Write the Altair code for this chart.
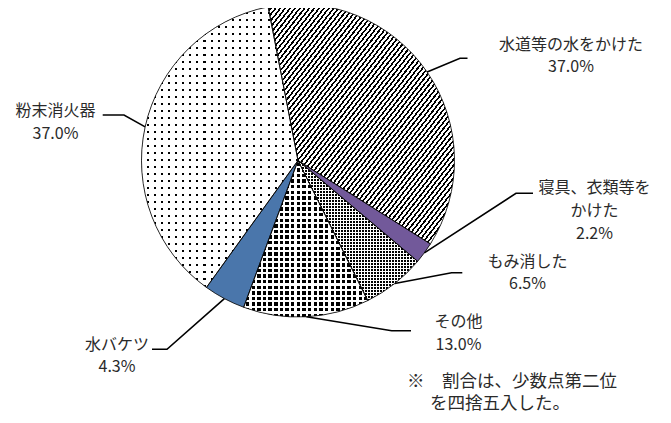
import math
import altair as alt
import pandas as pd

# ---------------- data ----------------
categories = ["水道等の水をかけた", "寝具、衣類等をかけた", "もみ消した", "その他", "水バケツ", "粉末消火器"]
values = [37.0, 2.2, 6.5, 13.0, 4.3, 37.0]
label_names = [["水道等の水をかけた"], ["寝具、衣類等を", "かけた"], ["もみ消した"], ["その他"], ["水バケツ"], ["粉末消火器"]]
note_lines = ["※　割合は、少数点第二位", "を四捨五入した。"]

# ---------------- layout / style ----------------
M = 8                      # page margin
W, H = 655, 407
CX, CY, R = 298.0, 160.5, 156.5   # page coords of pie centre, radius
START_DEG = -11.0
FONT = "Noto Sans CJK JP"
TEXT_COLOR = "#2a2a2a"
base_colors = ["#ffffff", "#72599a", "#000000", "#000000", "#4a76ab", "#000000"]
# label anchors: (x centre, y of first line, line gap)
label_pos = [(571, 45, 22), (594.5, 188.3, 22.8), (527.5, 261.7, 21.8),
             (458.5, 321.7, 23.3), (117, 345, 22.3), (55.5, 111.2, 22.4)]
elbows = [(460, 58.3), (516, 193.3), (451.6, 272.7), (391.7, 330.7), (167, 349.3), (124, 115)]
ends = [(467.5, 58.3), (533, 193.3), (462.3, 272.7), (411, 330.7), (152, 349.3), (102.7, 115)]
note_x = [407, 430]
note_y = [381.5, 403.5]

total = sum(values)


def angles():
    out, acc = [], 0.0
    for v in values:
        a0 = START_DEG + acc / total * 360
        acc += v
        a1 = START_DEG + acc / total * 360
        out.append((a0, a1))
    return out


ANG = angles()


def sector_bbox(a0, a1, r):
    pts = [(0.0, 0.0)]
    angs = [a0, a1] + [k * 90 for k in range(-4, 9) if a0 < k * 90 < a1]
    for a in angs:
        t = math.radians(a)
        pts.append((r * math.sin(t), -r * math.cos(t)))
    xs = [p[0] for p in pts]
    ys = [p[1] for p in pts]
    return max(xs) - min(xs), max(ys) - min(ys)


def stripes(n, duty, on, off, x1, y1, x2, y2):
    stops = []
    for i in range(n):
        a = round(i / n, 6)
        b = round((i + duty) / n, 6)
        c = round((i + 1) / n, 6)
        stops += [alt.GradientStop(offset=a, color=on), alt.GradientStop(offset=b, color=on),
                  alt.GradientStop(offset=b, color=off), alt.GradientStop(offset=c, color=off)]
    return alt.LinearGradient(gradient="linear", stops=stops, x1=x1, y1=y1, x2=x2, y2=y2)


CLEAR = "rgba(255,255,255,0)"

pie_df = pd.DataFrame({"cat": categories, "value": values, "idx": list(range(len(values)))})

theta_scale = alt.Scale(domain=[0, total],
                        range=[math.radians(START_DEG), math.radians(START_DEG) + 2 * math.pi])

base = (alt.Chart(pie_df)
        .transform_window(cum="sum(value)", sort=[alt.SortField("idx")], frame=[None, 0])
        .transform_calculate(start="datum.cum - datum.value"))

pos = dict(theta=alt.Theta("start:Q", scale=theta_scale, stack=False),
           theta2="cum:Q",
           x=alt.value(CX - M), y=alt.value(CY - M))

layers = []
layers.append(base.mark_arc(radius=R, strokeWidth=0).encode(
    fill=alt.Fill("cat:N", scale=alt.Scale(domain=categories, range=base_colors), legend=None), **pos))


def only(i):
    return base.transform_filter(alt.datum.cat == categories[i])


# 水道: diagonal hatch
w0, h0 = sector_bbox(*ANG[0], R)
D = 2 / math.sqrt(1 / w0 ** 2 + 1 / h0 ** 2)
layers.append(only(0).mark_arc(radius=R, strokeWidth=0,
                               fill=stripes(int(round(D / 3.8)), 0.42, "#000000", "#ffffff", 0, 0, 1, 1)
                               ).encode(**pos))


def dots(i, period, dot):
    w, h = sector_bbox(*ANG[i], R)
    duty = (period - dot) / period
    return [
        only(i).mark_arc(radius=R, strokeWidth=0,
                         fill=stripes(max(1, int(round(w / period))), duty, "#ffffff", CLEAR, 0, 0, 1, 0)).encode(**pos),
        only(i).mark_arc(radius=R, strokeWidth=0,
                         fill=stripes(max(1, int(round(h / period))), duty, "#ffffff", CLEAR, 0, 0, 0, 1)).encode(**pos),
    ]


layers += dots(5, 7.0, 2.0)    # 粉末消火器
layers += dots(3, 5.6, 3.4)    # その他
layers += dots(2, 3.0, 2.0)    # もみ消した

layers.append(base.mark_arc(radius=R, fillOpacity=0, stroke="#000000", strokeWidth=0.8).encode(**pos))

# leader lines
lead_rows = []
for i, c in enumerate(categories):
    a0, a1 = ANG[i]
    mid = math.radians((a0 + a1) / 2)
    ex, ey = CX + R * math.sin(mid), CY - R * math.cos(mid)
    pts = [(ex, ey), elbows[i], ends[i]]
    for k, (px, py) in enumerate(pts):
        lead_rows.append({"cat": c, "k": k, "x": px - M, "y": py - M})
lead_df = pd.DataFrame(lead_rows)
layers.append(alt.Chart(lead_df).mark_line(color="#000000", strokeWidth=1.6).encode(
    x=alt.X("x:Q", scale=None, axis=None), y=alt.Y("y:Q", scale=None, axis=None),
    detail="cat:N", order="k:Q"))

# labels
lab_rows = []
for i, c in enumerate(categories):
    lines = label_names[i] + [f"{values[i]:.1f}%"]
    x0, y0, gap = label_pos[i]
    for j, t in enumerate(lines):
        lab_rows.append({"t": t, "x": x0 - M, "y": y0 + j * gap - M, "id": f"{i}-{j}"})
lab_df = pd.DataFrame(lab_rows)
layers.append(alt.Chart(lab_df).mark_text(font=FONT, fontSize=16, color=TEXT_COLOR,
                                          align="center", baseline="middle").encode(
    x=alt.X("x:Q", scale=None, axis=None), y=alt.Y("y:Q", scale=None, axis=None),
    text="t:N", detail="id:N"))

note_df = pd.DataFrame({"t": note_lines,
                        "x": [v - M for v in note_x],
                        "y": [v - M for v in note_y]})
layers.append(alt.Chart(note_df).mark_text(font=FONT, fontSize=17.5, color=TEXT_COLOR,
                                           align="left", baseline="middle").encode(
    x=alt.X("x:Q", scale=None, axis=None), y=alt.Y("y:Q", scale=None, axis=None), text="t:N"))

chart = (alt.layer(*layers)
         .properties(width=W, height=H, autosize="none", padding=0, background="#ffffff")
         .configure_view(stroke=None))

chart.save("out.html", embed_options={"renderer": "svg", "actions": False})
